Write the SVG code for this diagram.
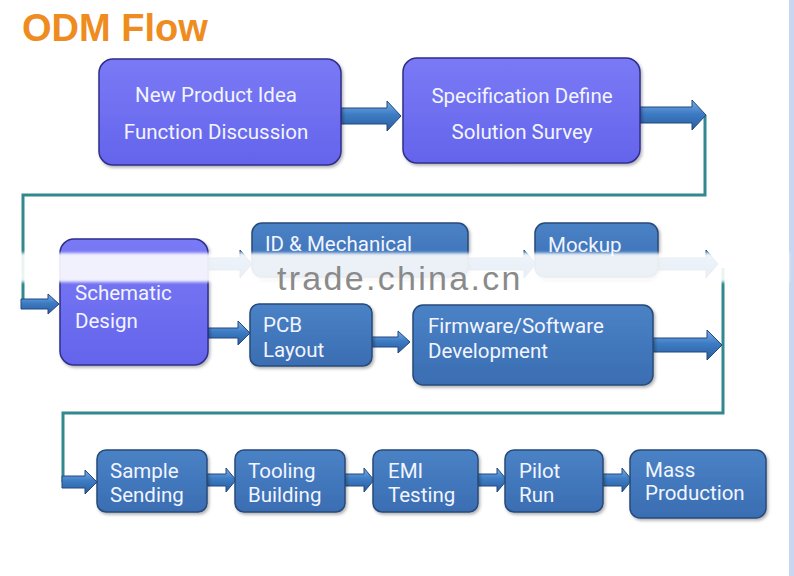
<svg xmlns="http://www.w3.org/2000/svg" width="794" height="576" viewBox="0 0 794 576">
<defs>
<linearGradient id="gP" x1="0" y1="0" x2="0" y2="1"><stop offset="0" stop-color="#7a7af6"/><stop offset="1" stop-color="#6464ec"/></linearGradient>
<linearGradient id="gB" x1="0" y1="0" x2="0" y2="1"><stop offset="0" stop-color="#4a82c6"/><stop offset="1" stop-color="#3a6db2"/></linearGradient>
<linearGradient id="gA" x1="0" y1="0" x2="0" y2="1"><stop offset="0" stop-color="#7aaee6"/><stop offset="0.45" stop-color="#3d7cc4"/><stop offset="1" stop-color="#2a5d9e"/></linearGradient>
<filter id="sh" x="-10%" y="-10%" width="130%" height="130%"><feDropShadow dx="1.5" dy="2" stdDeviation="1.5" flood-color="#000" flood-opacity="0.3"/></filter>
<filter id="bl" x="-5%" y="-50%" width="110%" height="200%"><feGaussianBlur stdDeviation="1.5"/></filter>
</defs>
<style>
.pbox{fill:url(#gP);stroke:#2f2f8a;stroke-width:1.5;filter:url(#sh)}
.bbox{fill:url(#gB);stroke:#284a7a;stroke-width:1.5;filter:url(#sh)}
.t{font-family:Roboto,"Open Sans",sans-serif;fill:#f2f5ff;font-size:20.5px}
.arr{fill:url(#gA);stroke:#23497e;stroke-width:1}
.con{fill:none;stroke:#33878e;stroke-width:3}
</style>
<rect width="794" height="576" fill="#ffffff"/>
<rect x="789" y="0" width="5" height="576" fill="#c8d6f2"/>
<text x="22" y="41" font-family="Liberation Sans,Arial,sans-serif" font-weight="bold" font-size="38" fill="#ef8c1f">ODM Flow</text>

<g id="connectors">
<path class="con" d="M705,115 L705,195 L23,195 L23,304"/>
<path class="con" d="M723,268 L723,413 L63,413 L63,482"/>
<path class="arr" d="M341,108 L387,108 L387,101 L401,116 L387,131 L387,124 L341,124 Z"/>
<path class="arr" d="M640,107 L692,107 L692,100 L706,115 L692,130 L692,123 L640,123 Z"/>
<path class="arr" d="M21,299 L48,299 L48,294 L59,304 L48,314 L48,309 L21,309 Z"/>
<path class="arr" d="M208,258 L240,258 L240,250 L252,264 L240,278 L240,270 L208,270 Z"/>
<path class="arr" d="M468,258 L524,258 L524,250 L536,264 L524,278 L524,270 L468,270 Z"/>
<path class="arr" d="M658,258 L706,258 L706,250 L718,264 L706,278 L706,270 L658,270 Z"/>
<path class="arr" d="M208,328 L238,328 L238,321 L250,333 L238,345 L238,338 L208,338 Z"/>
<path class="arr" d="M372,337 L398,337 L398,331 L410,342 L398,353 L398,347 L372,347 Z"/>
<path class="arr" d="M653,338 L707,338 L707,330 L722,345 L707,360 L707,352 L653,352 Z"/>
<path class="arr" d="M62,476 L85,476 L85,470 L97,482 L85,494 L85,488 L62,488 Z"/>
<path class="arr" d="M207,474 L226,474 L226,468 L236,480 L226,492 L226,486 L207,486 Z"/>
<path class="arr" d="M345,474 L364,474 L364,468 L374,480 L364,492 L364,486 L345,486 Z"/>
<path class="arr" d="M478,474 L497,474 L497,468 L507,480 L497,492 L497,486 L478,486 Z"/>
<path class="arr" d="M603,474 L622,474 L622,468 L632,480 L622,492 L622,486 L603,486 Z"/>
</g>

<g id="n-idea">
<rect class="pbox" x="99" y="59" width="242" height="106" rx="14"/>
<text class="t" x="216" y="102" text-anchor="middle" font-size="20">New Product Idea</text>
<text class="t" x="216" y="139" text-anchor="middle" font-size="20">Function Discussion</text>
</g>
<g id="n-spec">
<rect class="pbox" x="403" y="58" width="237" height="105" rx="14"/>
<text class="t" x="522" y="103" text-anchor="middle" font-size="20">Specification Define</text>
<text class="t" x="522" y="139" text-anchor="middle" font-size="20">Solution Survey</text>
</g>
<g id="n-schematic">
<rect class="pbox" x="60" y="239" width="148" height="126" rx="14"/>
<text class="t" x="75" y="300" font-size="23.5">Schematic</text>
<text class="t" x="75" y="328" font-size="23.5">Design</text>
</g>
<g id="n-id">
<rect class="bbox" x="252" y="223" width="216" height="54" rx="10"/>
<text class="t" x="265" y="251">ID &amp; Mechanical</text>
</g>
<g id="n-mockup">
<rect class="bbox" x="535" y="223" width="123" height="54" rx="10"/>
<text class="t" x="548" y="252">Mockup</text>
</g>
<g id="n-pcb">
<rect class="bbox" x="250" y="304" width="122" height="62" rx="9"/>
<text class="t" x="263" y="332" font-size="21">PCB</text>
<text class="t" x="263" y="357" font-size="21">Layout</text>
</g>
<g id="n-fw">
<rect class="bbox" x="413" y="305" width="240" height="80" rx="10"/>
<text class="t" x="428" y="333" font-size="21">Firmware/Software</text>
<text class="t" x="428" y="358" font-size="21">Development</text>
</g>
<g id="n-sample">
<rect class="bbox" x="97" y="450" width="110" height="62" rx="9"/>
<text class="t" x="110" y="478">Sample</text>
<text class="t" x="110" y="502">Sending</text>
</g>
<g id="n-tooling">
<rect class="bbox" x="235" y="450" width="110" height="62" rx="9"/>
<text class="t" x="248" y="478">Tooling</text>
<text class="t" x="248" y="502">Building</text>
</g>
<g id="n-emi">
<rect class="bbox" x="373" y="450" width="105" height="62" rx="9"/>
<text class="t" x="388" y="478">EMI</text>
<text class="t" x="388" y="502">Testing</text>
</g>
<g id="n-pilot">
<rect class="bbox" x="505" y="450" width="98" height="62" rx="9"/>
<text class="t" x="519" y="478">Pilot</text>
<text class="t" x="519" y="502">Run</text>
</g>
<g id="n-mass">
<rect class="bbox" x="630" y="450" width="136" height="68" rx="10"/>
<text class="t" x="645" y="477" font-size="19.5">Mass</text>
<text class="t" x="645" y="500" font-size="19.5">Production</text>
</g>

<rect x="0" y="253" width="789" height="29" fill="#ffffff" opacity="0.9" filter="url(#bl)"/>
<text x="277" y="290" font-family="Liberation Sans,Arial,sans-serif" font-size="34" letter-spacing="2.3" fill="#8a8a8a">trade.china.cn</text>
</svg>
